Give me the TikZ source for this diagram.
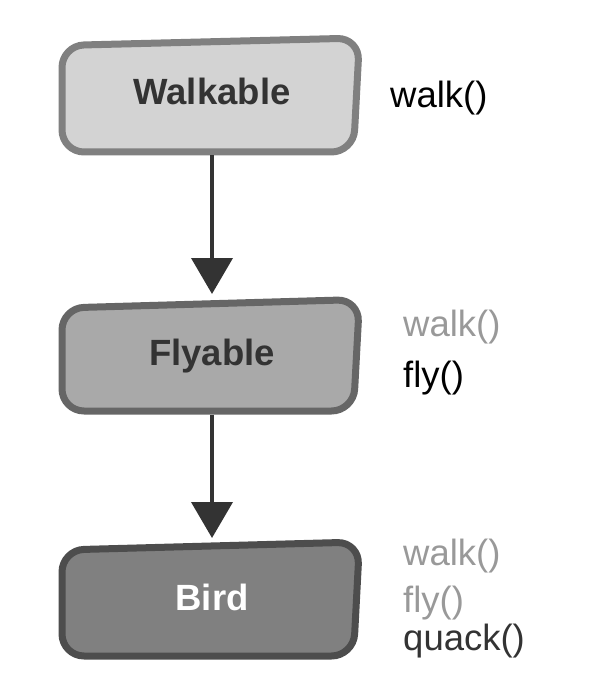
\documentclass[tikz,border=0pt]{standalone}
\usepackage{fontspec}
\setmainfont{Liberation Sans}
\usetikzlibrary{arrows.meta}
\definecolor{fillA}{HTML}{D3D3D3}
\definecolor{drawA}{HTML}{808080}
\definecolor{fillB}{HTML}{A9A9A9}
\definecolor{drawB}{HTML}{666666}
\definecolor{fillC}{HTML}{808080}
\definecolor{drawC}{HTML}{4D4D4D}
\definecolor{darktext}{HTML}{333333}
\definecolor{greytext}{HTML}{999999}
\definecolor{arrowcol}{HTML}{333333}
\tikzset{
  boxshape/.style={line width=7pt, rounded corners=22pt, line join=round},
  boxtext/.style={anchor=base, inner sep=0pt, font=\fontsize{36.5}{43}\selectfont\bfseries},
  method/.style={anchor=base west, inner sep=0pt, font=\fontsize{36.5}{43}\selectfont},
  inherited/.style={method, text=greytext},
  own/.style={method, text=black},
  inherit/.style={draw=arrowcol, line width=4pt, -{Triangle[length=36pt,width=41pt]}}
}
\begin{document}
\begin{tikzpicture}[x=1pt,y=-1pt]
\useasboundingbox (0,0) rectangle (592,700);
% boxes
\draw[boxshape, draw=drawA, fill=fillA] (62,152) -- (62,45.5) -- (359.5,38) -- (353.5,152) -- cycle;
\draw[boxshape, draw=drawB, fill=fillB] (62,411) -- (62,308) -- (359.5,299.5) -- (353.5,411) -- cycle;
\draw[boxshape, draw=drawC, fill=fillC] (62,656) -- (62,550) -- (359.5,542) -- (353.5,656) -- cycle;
% box titles
\node[boxtext, text=darktext] (walkable) at (212,105) {Walkable};
\node[boxtext, text=darktext] (flyable) at (212,365) {Flyable};
\node[boxtext, text=white] (bird) at (212,610) {Bird};
% connector ends
\coordinate (wbot) at (212,155.5);
\coordinate (ftop) at (212,294);
\coordinate (fbot) at (212,414.5);
\coordinate (btop) at (212,538);
\draw[inherit] (wbot) -- (ftop);
\draw[inherit] (fbot) -- (btop);
% methods
\node[own] (w1) at (390,108) {walk()};
\node[inherited] (f1) at (403,336) {walk()};
\node[own] (f2) at (403,387) {fly()};
\node[inherited] (b1) at (403,565) {walk()};
\node[inherited] (b2) at (403,612) {fly()};
\node[own, text=darktext] (b3) at (403,650) {quack()};
\end{tikzpicture}
\end{document}
